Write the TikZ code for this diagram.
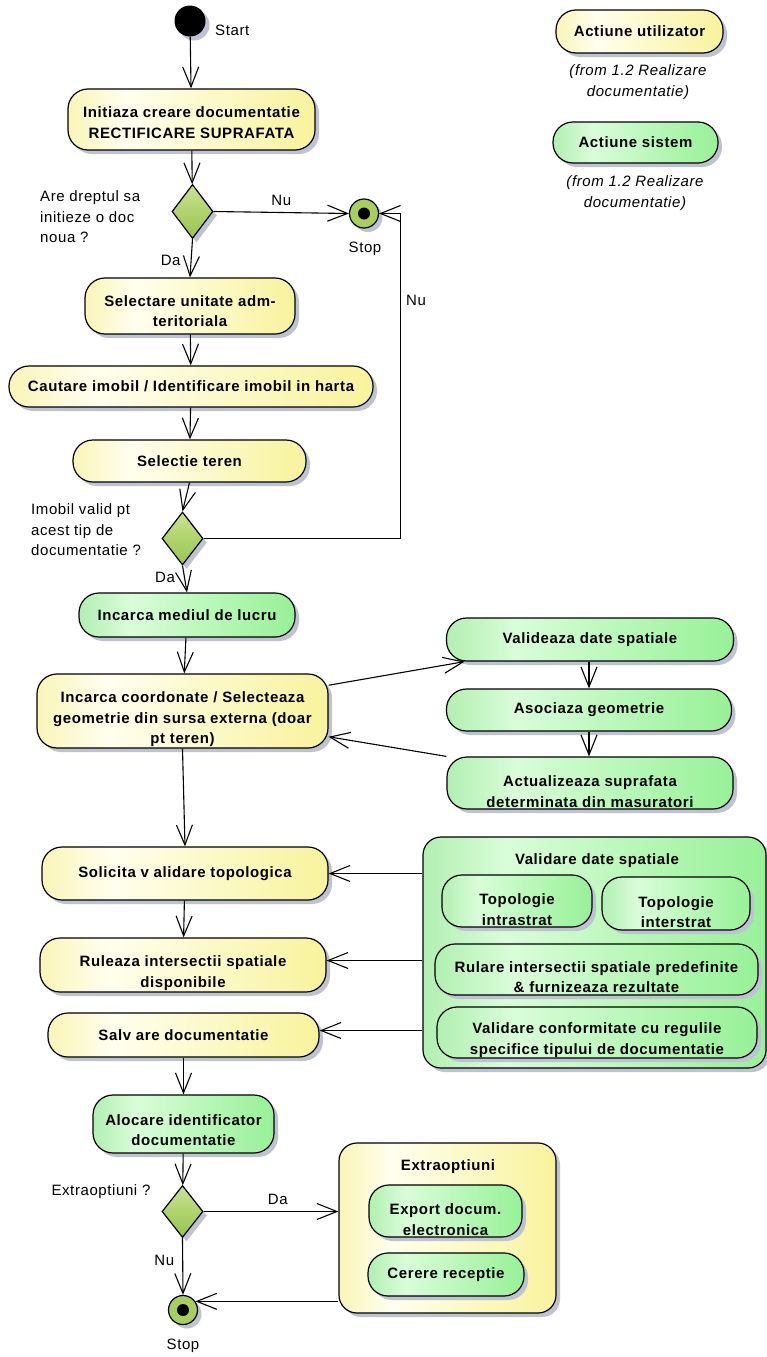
\documentclass[tikz,border=0pt]{standalone}
\usepackage{fontspec}
\setmainfont{Liberation Sans}[LetterSpace=4]
\usetikzlibrary{arrows.meta,shapes.geometric,shadows,calc}
\definecolor{ylA}{HTML}{FAF5B8}
\definecolor{ylB}{HTML}{FFFFEE}
\definecolor{ylC}{HTML}{F8F39C}
\definecolor{grA}{HTML}{B2EFB2}
\definecolor{grB}{HTML}{D9FDD9}
\definecolor{grC}{HTML}{97F197}
\definecolor{dTop}{HTML}{CBE292}
\definecolor{dBot}{HTML}{96C44C}
\definecolor{stopc}{HTML}{A8CF5E}
\definecolor{shc}{HTML}{BEC2D4}
\pgfdeclarehorizontalshading{yshade}{100bp}{color(0bp)=(ylA); color(25bp)=(ylA); color(37bp)=(ylB); color(75bp)=(ylC); color(100bp)=(ylC)}
\pgfdeclarehorizontalshading{gshade}{100bp}{color(0bp)=(grA); color(25bp)=(grA); color(37bp)=(grB); color(75bp)=(grC); color(100bp)=(grC)}
\newcommand\dropt[1]{\rule{0pt}{#1}}
\begin{document}
\begin{tikzpicture}[x=1pt,y=-1pt,
  shd/.style={drop shadow={shadow xshift=4pt,shadow yshift=-4pt,fill=shc,opacity=1}},
  lbl/.style={font=\fontsize{15}{20.5}\selectfont, inner sep=0pt},
  ttl/.style={font=\fontsize{15}{20.5}\selectfont\bfseries, inner sep=0pt},
  act/.style={draw, line width=1.2pt, rounded corners=20pt, inner sep=0pt, align=center,
    font=\fontsize{15}{20.5}\selectfont\bfseries, shd},
  ya/.style={act, shade, shading=yshade},
  ga/.style={act, shade, shading=gshade},
  grp/.style={draw, line width=1.2pt, rounded corners=18pt, inner sep=0pt, shd, shade},
  dec/.style={diamond, draw, line width=1.2pt, inner sep=0pt, minimum width=41pt,
    minimum height=54pt, top color=dTop, bottom color=dBot, shd},
  fin/.style={circle, draw, line width=1.2pt, fill=stopc, minimum size=29pt, inner sep=0pt, shd},
  arr/.style={line width=1.1pt, -{Straight Barb[length=20pt,width=16pt]}}
]
\useasboundingbox (0,0) rectangle (767,1357);

% legend
\node[ya, minimum width=167pt, minimum height=43pt] (legU) at (639.5,31.5) {Actiune utilizator};
\node[lbl, align=center, font=\fontsize{15}{20.5}\selectfont\itshape] (legUf) at (638,82) {(from 1.2 Realizare\\documentatie)};
\node[ga, minimum width=165pt, minimum height=41pt] (legS) at (635.5,142.5) {Actiune sistem};
\node[lbl, align=center, font=\fontsize{15}{20.5}\selectfont\itshape] (legSf) at (635,193) {(from 1.2 Realizare\\documentatie)};

% start
\node[circle, fill=black, minimum size=31pt, inner sep=0pt, shd] (start) at (190,21) {};
\node[lbl, anchor=west] (startl) at (215,30) {Start};

% main flow
\node[ya, minimum width=247pt, minimum height=61pt] (a1) at (191.5,119.5) {\dropt{17pt}Initiaza creare documentatie\\ RECTIFICARE SUPRAFATA};
\node[dec] (d1) at (192.5,211.5) {};
\node[lbl, align=left, anchor=west] (d1l) at (40,217) {Are dreptul sa\\initieze o doc\\noua ?};
\node[fin] (s1) at (364,213.5) {};
\fill (s1.center) circle[radius=6pt];
\node[lbl] (s1l) at (365,249) {Stop};

\node[ya, minimum width=210pt, minimum height=56pt] (a2) at (190,306) {\dropt{21pt}Selectare unitate adm-\\teritoriala};
\node[ya, minimum width=364pt, minimum height=41pt] (a3) at (191,386.5) {Cautare imobil / Identificare imobil in harta};
\node[ya, minimum width=233pt, minimum height=42pt] (a4) at (189.5,461) {Selectie teren};
\node[dec, minimum height=53pt] (d2) at (182.5,538.5) {};
\node[lbl, align=left, anchor=west] (d2l) at (31,530) {Imobil valid pt\\acest tip de\\documentatie ?};
\coordinate (lp) at (400.5,213.5);

\node[ga, minimum width=216pt, minimum height=44pt] (a5) at (187,615) {Incarca mediul de lucru};
\node[ya, minimum width=291pt, minimum height=74pt] (a6) at (182.5,711) {\dropt{28pt}Incarca coordonate / Selecteaza\\geometrie din sursa externa (doar\\pt teren)};

\node[ga, minimum width=287pt, minimum height=43pt] (v1) at (590,639.5) {Valideaza date spatiale};
\node[ga, minimum width=285pt, minimum height=42pt] (v2) at (589,710) {Asociaza geometrie};
\node[ga, minimum width=286pt, minimum height=52pt] (v3) at (590,783) {\dropt{28pt}Actualizeaza suprafata\\determinata din masuratori};

\node[ya, minimum width=286pt, minimum height=53pt] (a7) at (185,873.5) {Solicita v alidare topologica};
\node[ya, minimum width=286pt, minimum height=54pt] (a8) at (183,965) {\dropt{27pt}Ruleaza intersectii spatiale\\disponibile};
\node[ya, minimum width=271pt, minimum height=44pt] (a9) at (183.5,1035) {Salv are documentatie};

% validation group
\node[grp, shading=gshade, minimum width=343pt, minimum height=231pt] (g1) at (594.5,952.5) {};
\node[ttl] (g1t) at (597,861) {Validare date spatiale};
\node[ga, minimum width=150pt, minimum height=52pt] (t1) at (517,901) {\dropt{28pt}Topologie\\intrastrat};
\node[ga, minimum width=148pt, minimum height=53pt] (t2) at (676,903.5) {\dropt{28pt}Topologie\\interstrat};
\node[ga, minimum width=323pt, minimum height=51pt] (t3) at (596.5,969.5) {\dropt{26pt}Rulare intersectii spatiale predefinite\\\& furnizeaza rezultate};
\node[ga, minimum width=320pt, minimum height=51pt] (t4) at (597,1032.5) {\dropt{26pt}Validare conformitate cu regulile\\specifice tipului de documentatie};

\node[ga, minimum width=181pt, minimum height=58pt] (a10) at (183.5,1124) {\dropt{23pt}Alocare identificator\\documentatie};
\node[dec, minimum height=52pt] (d3) at (182.5,1211.5) {};
\node[lbl] (d3l) at (101,1192) {Extraoptiuni ?};
\node[fin] (s2) at (183,1310) {};
\fill (s2.center) circle[radius=6pt];
\node[lbl] (s2l) at (183,1346) {Stop};

% extra group
\node[grp, shading=yshade, minimum width=217pt, minimum height=170pt] (g2) at (447.5,1228) {};
\node[ttl] (g2t) at (448,1167) {Extraoptiuni};
\node[ga, minimum width=153pt, minimum height=52pt] (e1) at (445.5,1211) {\dropt{28pt}Export docum.\\electronica};
\node[ga, minimum width=156pt, minimum height=43pt] (e2) at (446,1274.5) {Cerere receptie};

% connectors
\draw[arr] (start) -- (a1);
\draw[arr] (a1) -- (d1);
\draw[arr] (d1.east) -- (s1.west) node[lbl, pos=0.5, above=6pt] (nu1) {Nu};
\draw[arr] (d1.south) -- (a2.north) node[lbl, pos=0.55, left=10pt] (da1) {Da};
\draw[arr] (a2) -- (a3);
\draw[arr] (a3) -- (a4);
\draw[arr] (a4.south) -- (d2.north);
\draw[arr] (d2.east) -| (lp) -- (s1.east);
\node[lbl] (nu2) at (416,300) {Nu};
\draw[arr] (d2.south) -- (a5.north) node[lbl, pos=0.45, left=9pt] (da2) {Da};
\draw[arr] (a5) -- (a6);
\draw[arr] (a6.10) -- (v1.190);
\draw[arr] (v1.south -| v2.north) -- (v2.north);
\draw[arr] (v2.south) -- (v2.south |- v3.north);
\draw[arr] (v3.north west) -- (a6.-10);
\draw[arr] (a6.south) -- (a7.north);
\draw[arr] (a7) -- (a8);
\draw[arr] (g1.west |- a7.east) -- (a7.east);
\coordinate (c8) at ($(a8.east)+(0,-4.5)$);
\coordinate (c9) at ($(a9.east)+(0,-4.5)$);
\draw[arr] (g1.west |- c8) -- (c8);
\draw[arr] (g1.west |- c9) -- (c9);
\draw[arr] (a9.south) -- (a10.north);
\draw[arr] (a10) -- (d3);
\draw[arr] (d3.east) -- (d3.east -| g2.west) node[lbl, pos=0.55, above=6pt] (da3) {Da};
\draw[arr] (d3.south) -- (s2.north) node[lbl, pos=0.4, left=8pt] (nu3) {Nu};
\draw[arr] (g2.west |- s2.35) -- (s2.35);
\end{tikzpicture}
\end{document}
